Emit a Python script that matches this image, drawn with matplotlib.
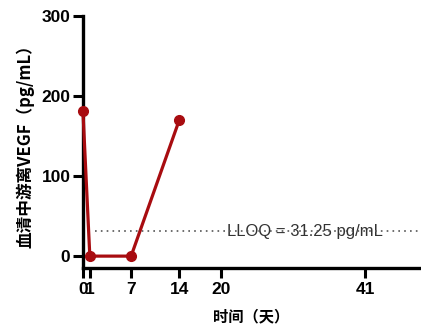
import matplotlib
matplotlib.use('Agg')
from matplotlib import pyplot as plt

# serum free VEGF over time
days = [0, 1, 7, 14]
vegf = [181, 0, 0, 170]
lloq = 31.25
x_ticks = [0, 1, 7, 14, 20, 41]
y_ticks = [0, 100, 200, 300]

latin = ['Liberation Sans', 'DejaVu Sans']
cjk = ['Noto Sans CJK SC', 'DejaVu Sans']

fig = plt.figure(figsize=(4.21, 3.25), dpi=100, facecolor='white')
ax = fig.add_axes([0.197, 0.175, 0.801, 0.776])

# dotted LLOQ reference line with its label laid over it
ax.axhline(lloq, color='#555555', linestyle=(0, (1, 2.5)), linewidth=1.2, xmin=0.035, zorder=1)
ax.text(32.3, lloq, f'LLOQ = {lloq} pg/mL', ha='center', va='center', fontsize=12,
        color='#333333', family=latin, zorder=0)

ax.plot(days, vegf, color='#a80c10', linewidth=2.3, marker='o', markersize=7,
        clip_on=False, zorder=3)

ax.set_xlim(0, 49)
ax.set_ylim(-15, 300)
ax.set_xticks(x_ticks)
ax.set_yticks(y_ticks)
ax.set_xticklabels([str(t) for t in x_ticks], fontsize=12.5, fontweight='bold', family=latin)
ax.set_yticklabels([str(t) for t in y_ticks], fontsize=12.5, fontweight='bold', family=latin)
ax.tick_params(axis='both', width=2.2, length=7, color='black', pad=2)
ax.tick_params(axis='x', pad=3)

for side in ['top', 'right']:
    ax.spines[side].set_visible(False)
for side in ['left', 'bottom']:
    ax.spines[side].set_linewidth(2.4)

ax.set_xlabel('时间（天）', fontsize=11, fontweight='bold', family=cjk, labelpad=8)
ax.set_ylabel('血清中游离VEGF（pg/mL）', fontsize=12, fontweight='bold', family=cjk, labelpad=5)

plt.savefig('out.png', dpi=100, facecolor='white')
